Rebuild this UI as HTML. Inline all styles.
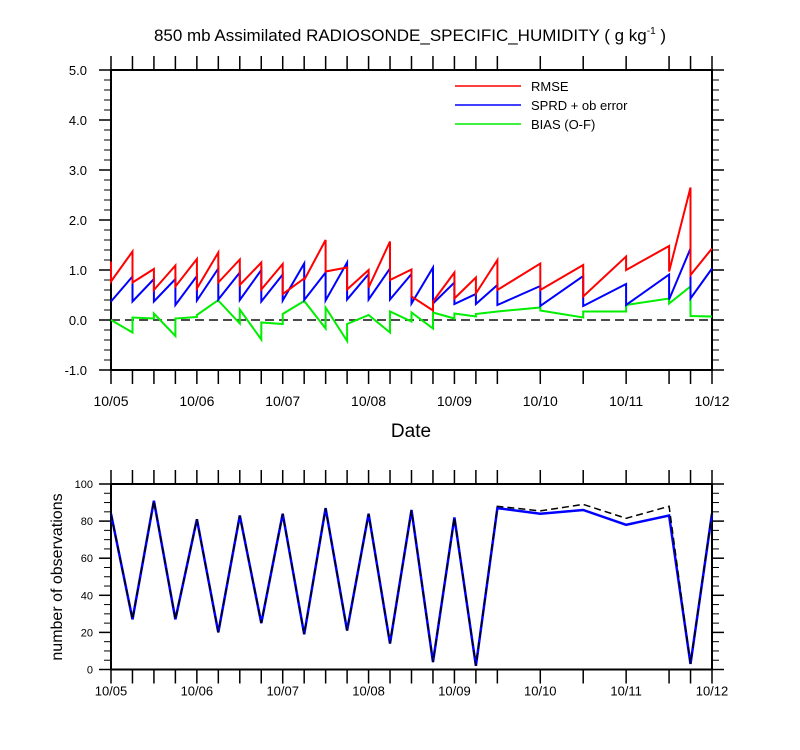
<!DOCTYPE html>
<html><head><meta charset="utf-8"><style>
body{margin:0;background:#fff;}
svg{display:block;font-family:"Liberation Sans",sans-serif;}
</style></head><body>
<svg id="c" width="800" height="750" xmlns="http://www.w3.org/2000/svg"></svg>
<script>
const hours=[0,6,12,18,24,30,36,42,48,54,60,66,72,78,84,90,96,102,108,120,132,144,156,162,168];
const rmsePrior=[1.17,1.37,1.02,1.09,1.22,1.35,1.21,1.15,1.12,0.83,1.6,1.05,1.0,1.57,1.01,0.19,0.95,0.85,1.2,1.13,1.1,1.27,1.48,2.65,1.43];
const rmsePost=[0.77,0.75,0.6,0.67,0.63,0.75,0.7,0.61,0.52,0.8,0.97,0.61,0.65,0.8,0.47,0.37,0.43,0.53,0.6,0.6,0.47,1.0,0.97,0.9,1.43];
const sprdPrior=[0.37,0.87,0.82,0.82,0.88,1.03,0.95,1.0,0.91,1.13,0.95,1.15,0.92,1.03,0.92,1.05,0.75,0.52,0.7,0.68,0.88,0.72,0.91,1.43,1.03];
const sprdPost=[0.37,0.37,0.37,0.3,0.39,0.41,0.4,0.37,0.39,0.4,0.39,0.41,0.41,0.41,0.33,0.33,0.32,0.32,0.3,0.28,0.28,0.3,0.41,0.43,1.03];
const biasPrior=[0.0,-0.25,0.03,-0.32,0.06,0.4,-0.07,-0.39,-0.08,0.38,-0.17,-0.42,0.1,-0.25,-0.03,-0.17,0.03,0.07,0.17,0.25,0.05,0.17,0.43,0.67,0.07];
const biasPost=[0.0,0.05,0.13,0.03,0.1,0.39,0.21,-0.05,0.12,0.38,0.25,-0.08,0.1,0.17,0.15,0.15,0.13,0.12,0.17,0.19,0.17,0.3,0.33,0.08,0.07];
const obsUsed=[84,27,91,27,81,20,83,25,84,19,87,21,84,14,86,4,82,2,87,84,86,78,83,3,84];
const obsPossible=[84,27,91,27,81,20,83,25,84,19,87,21,84,14,86,4,82,2,88,85.5,89,81.5,88,3,85];
const dayLabels=["10/05","10/06","10/07","10/08","10/09","10/10","10/11","10/12"];
const topYTicks=[-1,0,1,2,3,4,5];
const botYTicks=[0,20,40,60,80,100];

const S=document.getElementById('c');
const NS='http://www.w3.org/2000/svg';
function mk(t,a,p){const e=document.createElementNS(NS,t);for(const k in a)e.setAttribute(k,a[k]);(p||S).appendChild(e);return e;}
const X0=111,X1=712;
const xs=h=>X0+(X1-X0)*h/168;
const yT=v=>320-50*v;
const yB=v=>669.5-1.855*v;

// title
let t=mk('text',{x:410,y:41,'text-anchor':'middle','font-size':17});

t.innerHTML='850 mb Assimilated RADIOSONDE_SPECIFIC_HUMIDITY ( g kg<tspan dy="-7" font-size="10">-1</tspan><tspan dy="7"> )</tspan>';

function frame(y0,y1,name){
  const r=mk('rect',{x:X0,y:y0,width:X1-X0,height:y1-y0,fill:'none',stroke:'#000','stroke-width':2});
  
  hours.forEach(h=>{const x=xs(h);
    mk('line',{x1:x,x2:x,y1:y0,y2:y0-14,stroke:'#000','stroke-width':1.5});
    mk('line',{x1:x,x2:x,y1:y1,y2:y1+14,stroke:'#000','stroke-width':1.5});});
  dayLabels.forEach((d,i)=>{const l=mk('text',{x:xs(i*24),y:y1+(name==='top-plot-frame'?36:26),'text-anchor':'middle','font-size':name==='top-plot-frame'?14:13});
    l.textContent=d;});
}
frame(70,370,'top-plot-frame');
frame(484,669.5,'bottom-plot-frame');

// top y ticks
for(let v=-1;v<=5.001;v+=0.2){const y=yT(v);const maj=Math.abs(v-Math.round(v))<0.01;const L=maj?12:7;
  mk('line',{x1:X0,x2:X0-L,y1:y,y2:y,stroke:'#000','stroke-width':maj?1.5:1});
  mk('line',{x1:X1,x2:X1+L,y1:y,y2:y,stroke:'#000','stroke-width':maj?1.5:1});}
topYTicks.forEach(v=>{const l=mk('text',{x:87,y:yT(v)+5,'text-anchor':'end','font-size':13});l.textContent=v.toFixed(1);
  });
for(let v=0;v<=100;v+=5){const y=yB(v);const maj=v%20===0;const L=maj?12:7;
  mk('line',{x1:X0,x2:X0-L,y1:y,y2:y,stroke:'#000','stroke-width':maj?1.5:1});
  mk('line',{x1:X1,x2:X1+L,y1:y,y2:y,stroke:'#000','stroke-width':maj?1.5:1});}
botYTicks.forEach(v=>{const l=mk('text',{x:93,y:yB(v)+4,'text-anchor':'end','font-size':11});l.textContent=v;
  });

let xl=mk('text',{x:411,y:437,'text-anchor':'middle','font-size':19});xl.textContent='Date';

let yl=mk('text',{x:0,y:0,'text-anchor':'middle','font-size':16,transform:'translate(62,577) rotate(-90)'});yl.textContent='number of observations';


// zero line
const z=mk('line',{x1:X0,x2:X1,y1:yT(0),y2:yT(0),stroke:'#333','stroke-width':1.8,'stroke-dasharray':'9,5'});


function saw(prior,post,col,name){
  let d='';hours.forEach((h,i)=>{const x=xs(h).toFixed(1);
    d+=(i===0?'M':'L')+x+','+yT(prior[i]).toFixed(1)+'L'+x+','+yT(post[i]).toFixed(1);});
  const p=mk('path',{d,fill:'none',stroke:col,'stroke-width':2,'stroke-linejoin':'miter'});
  
}
saw(biasPrior,biasPost,'#00ee00','bias-line');
saw(sprdPrior,sprdPost,'#0000ff','sprd-line');
saw(rmsePrior,rmsePost,'#ff0000','rmse-line');

// legend
[['RMSE','#ff0000'],['SPRD + ob error','#0000ff'],['BIAS (O-F)','#00ee00']].forEach((e,i)=>{
  const y=86+19*i;
  const g=mk('g',{});
  mk('line',{x1:455,x2:521,y1:y,y2:y,stroke:e[1],'stroke-width':1.5},g);
  const tx=mk('text',{x:531,y:y+5,'font-size':13},g);tx.textContent=e[0];});

function line(vals,col,dash,name,w){
  let d='';hours.forEach((h,i)=>{d+=(i===0?'M':'L')+xs(h).toFixed(1)+','+yB(vals[i]).toFixed(1);});
  const a={d,fill:'none',stroke:col,'stroke-width':w};if(dash)a['stroke-dasharray']=dash;
  const p=mk('path',a);
}
line(obsUsed,'#0000ff',null,'obs-used-line',2.5);
line(obsPossible,'#000',"7,4",'obs-possible-line',1.5);
</script>
</body></html>
